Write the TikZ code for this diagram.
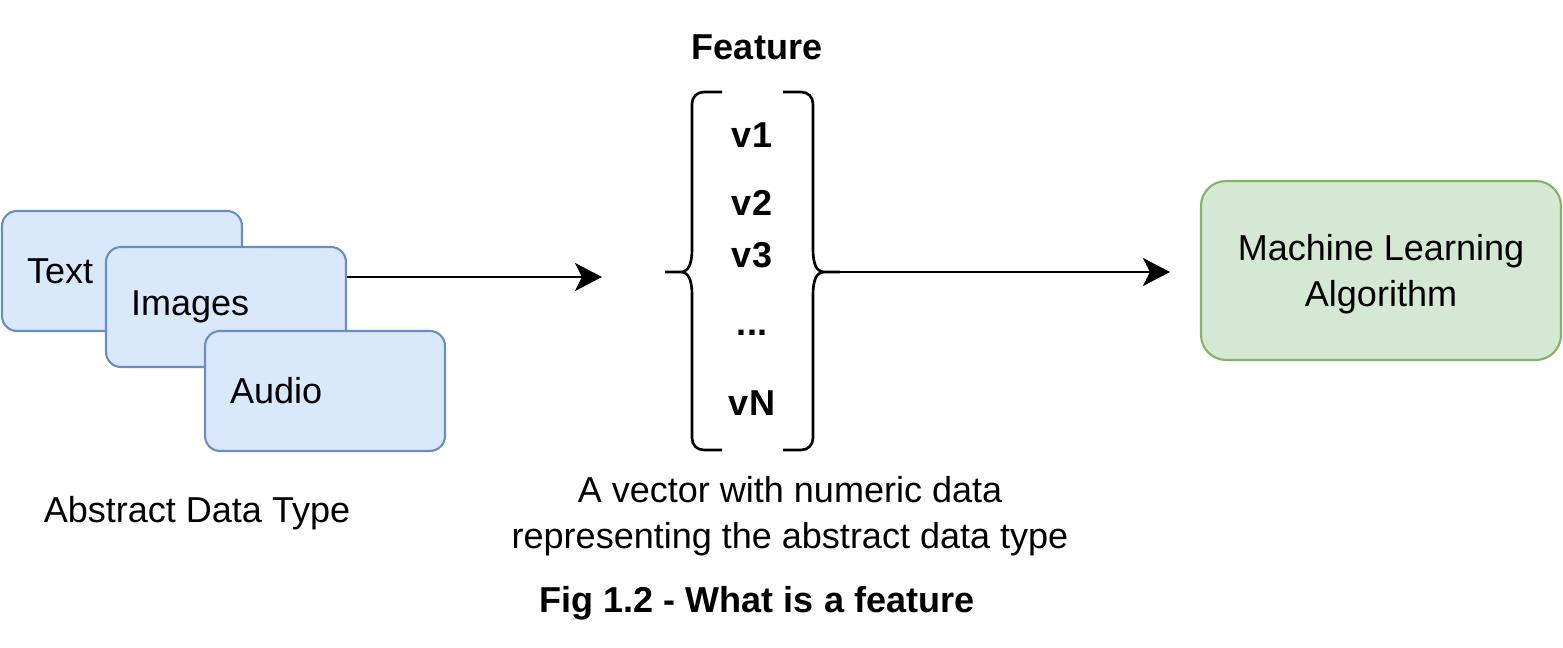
\documentclass[tikz,border=0pt]{standalone}
\usepackage{fontspec}
\setmainfont{Liberation Sans}
\usetikzlibrary{arrows.meta}
\definecolor{typefill}{HTML}{DAE8FC}
\definecolor{typeline}{HTML}{6C8EBF}
\definecolor{algofill}{HTML}{D5E8D4}
\definecolor{algoline}{HTML}{82B366}
\begin{document}
\fontsize{20.5}{26}\selectfont
\begin{tikzpicture}[x=0.02cm, y=-0.02cm,
    datatype/.style={draw=typeline, fill=typefill, line width=1.2pt, rounded corners=0.3cm,
        text width=3.8cm, inner xsep=0.5cm, align=left, minimum height=2.4cm},
    conn/.style={line width=1.5pt, -{Stealth[length=0.54cm, width=0.56cm, inset=0.14cm]}},
    brace/.style={line width=1.5pt}]
    \useasboundingbox (0,0) rectangle (1563,648);

    % Abstract data types
    \node[datatype] (text) at (122,271) {Text};
    \node[datatype] (images) at (226,307) {Images};
    \node[datatype] (audio) at (325,391) {Audio};
    \node (adt) at (197,513) {Abstract Data Type};

    % Feature vector
    \node[font=\bfseries] (feat) at (757,47) {Feature};
    \foreach \n/\t/\y in {1/v1/148, 2/v2/216, 3/v3/268, 4/{.{}.{}.}/336, 5/vN/416} {
        \node[anchor=base, font=\bfseries] (v\n) at (752,\y) {\t};
    }
    \coordinate (ltip) at (665,272);
    \coordinate (rtip) at (840,272);
    \draw[brace] (722,92) -- (704,92) .. controls (697,92) and (692,97) .. (692,104)
        -- (692,248) .. controls (692,266) and (688,272) .. (680,272) -- (ltip)
        -- (680,272) .. controls (688,272) and (692,278) .. (692,296)
        -- (692,438) .. controls (692,445) and (697,450) .. (704,450) -- (722,450);
    \draw[brace] (783,92) -- (801,92) .. controls (808,92) and (813,97) .. (813,104)
        -- (813,248) .. controls (813,266) and (817,272) .. (825,272) -- (rtip)
        -- (825,272) .. controls (817,272) and (813,278) .. (813,296)
        -- (813,438) .. controls (813,445) and (808,450) .. (801,450) -- (783,450);
    \node[align=center] (desc) at (790,516) {A vector with numeric data\\representing the abstract data type};

    % Algorithm
    \node[draw=algoline, fill=algofill, line width=1.2pt, rounded corners=0.5cm,
        minimum width=7.2cm, minimum height=3.58cm] (ml) at (1381,270.5) {};
    \node[align=center] (mltext) at (1381,274) {Machine Learning\\Algorithm};

    % Connections
    \coordinate (vecin) at (602,277);
    \draw[conn] (images.east |- vecin) -- (vecin);
    \draw[conn, shorten >=0.6cm] (rtip) -- (ml.west |- rtip);

    % Caption
    \node[font=\bfseries] (caption) at (757,603) {Fig 1.2 - What is a feature};
\end{tikzpicture}
\end{document}
